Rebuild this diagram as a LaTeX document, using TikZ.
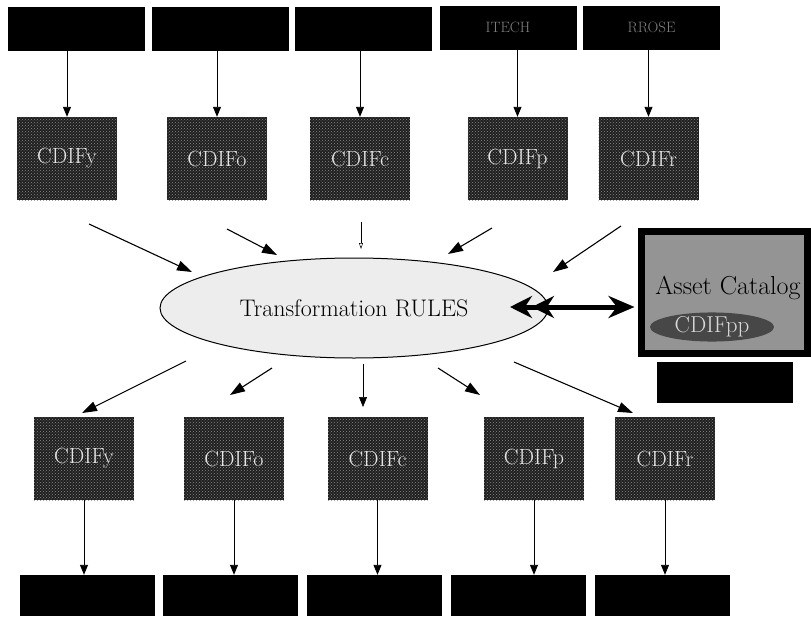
\documentclass[tikz,border=0pt]{standalone}
\usetikzlibrary{arrows.meta,shapes.geometric,patterns}
\begin{document}
\begin{tikzpicture}[x=1pt,y=-1pt,
  srcbox/.style={fill=black,draw=black,minimum width=136pt,minimum height=43pt,inner sep=0pt,
    text=black!50,font=\fontsize{15}{15}\selectfont},
  cdifbox/.style={fill=black!88,minimum width=100pt,minimum height=83pt,inner sep=0pt,
    postaction={pattern=crosshatch dots,pattern color=black!45},
    text=black!10,font=\fontsize{22}{22}\selectfont},
  outbox/.style={fill=black,minimum width=135pt,minimum height=41pt,inner sep=0pt},
  arr/.style={line width=0.9pt,-{Triangle[length=10pt,width=8pt]}},
  darr/.style={line width=1.1pt,-{Triangle[length=15pt,width=10pt]}},
  thinarr/.style={line width=0.5pt,-{Triangle[open,length=6pt,width=4pt]}},
  bighead/.style={Stealth[length=26pt,width=22pt]},
  bigarr/.style={line width=5pt,{Stealth[length=22pt,width=22pt] Stealth[length=22pt,width=22pt]}-{Stealth[length=26pt,width=22pt]}}]
\useasboundingbox (0,0) rectangle (811,616);

% source boxes
\node[srcbox] (t1) at (76.5,28.5) {};
\node[srcbox] (t2) at (220,28.5) {};
\node[srcbox] (t3) at (363.5,28.5) {};
\node[srcbox] (t4) at (508,27.5) {ITECH};
\node[srcbox] (t5) at (651.5,27.5) {RROSE};

% incoming CDIF boxes
\node[cdifbox] (m1) at (67,158.5) {CDIFy};
\node[cdifbox] (m2) at (217,158.5) {CDIFo};
\node[cdifbox] (m3) at (360,158.5) {CDIFc};
\node[cdifbox] (m4) at (517.5,158.5) {CDIFp};
\node[cdifbox] (m5) at (648.5,158.5) {CDIFr};

% central rule engine
\node[ellipse,draw=black,line width=1pt,fill=black!7,minimum width=388pt,minimum height=100pt,
  inner sep=0pt,font=\fontsize{24}{24}\selectfont] (rules) at (354,308) {Transformation RULES};

% asset catalog
\node[draw=black,line width=7pt,fill=black!42,minimum width=166pt,minimum height=122pt,inner sep=0pt]
  (cat) at (724.5,292.5) {};
\node[font=\fontsize{26}{26}\selectfont,text=black] (catlabel) at (728,288) {Asset Catalog};
\node[ellipse,fill=black!72,minimum width=124pt,minimum height=26pt,inner sep=0pt,
  text=black!15,font=\fontsize{23}{23}\selectfont] (pp) at (712,327) {CDIFpp};
\node[fill=black,minimum width=136pt,minimum height=41pt,inner sep=0pt] (note) at (725,382.5) {};

% outgoing CDIF boxes
\node[cdifbox] (b1) at (84,458.5) {CDIFy};
\node[cdifbox] (b2) at (234,458.5) {CDIFo};
\node[cdifbox] (b3) at (377.5,458.5) {CDIFc};
\node[cdifbox] (b4) at (534,458.5) {CDIFp};
\node[cdifbox] (b5) at (665,458.5) {CDIFr};

% target boxes
\node[outbox] (o1) at (87.5,595.5) {};
\node[outbox] (o2) at (230.5,595.5) {};
\node[outbox] (o3) at (374.5,595.5) {};
\node[outbox] (o4) at (518,595.5) {};
\node[outbox] (o5) at (662,595.5) {};

% sources into CDIF
\foreach \i in {1,...,5} {
  \draw[arr] (t\i.south -| m\i.north) -- (m\i.north);
}

% CDIF into rules
\coordinate (i1a) at (89,224);  \coordinate (i1b) at (192,272);
\coordinate (i2a) at (227,229); \coordinate (i2b) at (277,255);
\coordinate (i3a) at (361,222); \coordinate (i3b) at (361,249);
\coordinate (i4a) at (492,228); \coordinate (i4b) at (448,254);
\coordinate (i5a) at (621,226); \coordinate (i5b) at (553,272);
\draw[darr] (i1a) -- (i1b);
\draw[darr] (i2a) -- (i2b);
\draw[thinarr] (i3a) -- (i3b);
\draw[darr] (i4a) -- (i4b);
\draw[darr] (i5a) -- (i5b);

% rules out to CDIF
\coordinate (u1a) at (186,361); \coordinate (u1b) at (82,413);
\coordinate (u2a) at (272,368); \coordinate (u2b) at (230,395);
\coordinate (u3a) at (363,364); \coordinate (u3b) at (363,407);
\coordinate (u4a) at (438,368); \coordinate (u4b) at (480,395);
\coordinate (u5a) at (514,362); \coordinate (u5b) at (633,413);
\draw[darr] (u1a) -- (u1b);
\draw[darr] (u2a) -- (u2b);
\draw[arr,line width=0.7pt] (u3a) -- (u3b);
\draw[darr] (u4a) -- (u4b);
\draw[darr] (u5a) -- (u5b);

% rules <-> catalog
\coordinate (dl) at (510,307);
\draw[bigarr] (dl) -- ([xshift=-3.5pt]cat.west |- dl);

% CDIF out to targets
\foreach \i in {1,...,5} {
  \draw[arr] (b\i.south) -- (o\i.north -| b\i.south);
}
\end{tikzpicture}
\end{document}
